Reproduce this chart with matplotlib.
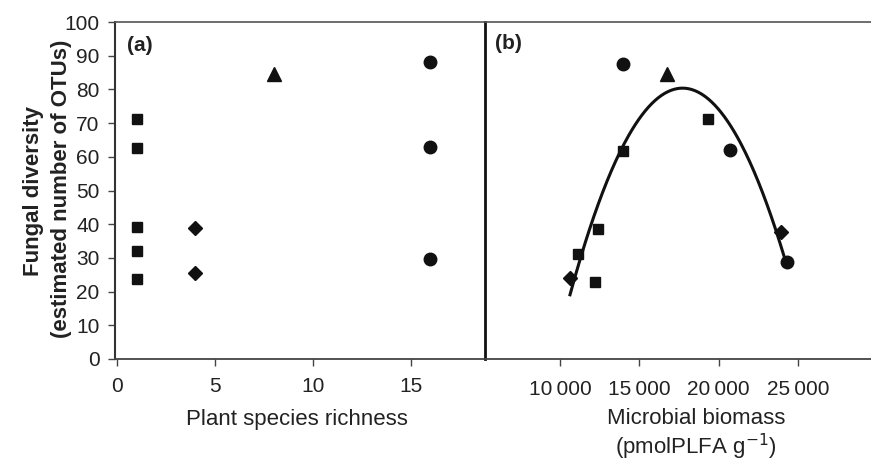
import numpy as np
import matplotlib
matplotlib.use("Agg")
import matplotlib.pyplot as plt

plt.rcParams['font.family'] = ['Liberation Sans', 'DejaVu Sans']

# Panel (a): plant species richness vs fungal diversity
a_sq_x = [1, 1, 1, 1, 1]
a_sq_y = [71.2, 62.7, 39.3, 32.1, 23.7]
a_di_x = [4, 4]
a_di_y = [38.8, 25.6]
a_tr_x = [8]
a_tr_y = [84.5]
a_ci_x = [16, 16, 16]
a_ci_y = [88.0, 63.0, 29.7]

# Panel (b): microbial biomass vs fungal diversity
b_sq_x = [19350, 13970, 12420, 11150, 12210]
b_sq_y = [71.2, 61.8, 38.7, 31.2, 22.9]
b_di_x = [23920, 10630]
b_di_y = [37.6, 23.9]
b_tr_x = [16770]
b_tr_y = [84.5]
b_ci_x = [13950, 20700, 24290]
b_ci_y = [87.4, 62.1, 28.7]

a_xticks = [0, 5, 10, 15]
b_xticks = [10000, 15000, 20000, 25000]
b_xticklabels = ['10\u2009000', '15\u2009000', '20\u2009000', '25\u2009000']
yticks = list(range(0, 101, 10))

W, H = 871, 463
fig = plt.figure(figsize=(W/100, H/100), dpi=100)
left, mid, right = 115/W, 485/W, 1.0
bottom, top = 1 - 359/H, 1 - 22/H
axa = fig.add_axes([left, bottom, mid-left, top-bottom])
axb = fig.add_axes([mid, bottom, right-mid, top-bottom], sharey=axa)

mc = '#111111'
tc = '#222222'
tfs = 15
lfs = 16

for ax, pad in ((axa, 8), (axb, 10)):
    ax.set_ylim(0, 100)
    ax.spines['right'].set_visible(False)
    ax.spines['top'].set_color('#555555')
    ax.spines['top'].set_linewidth(1.2)
    ax.spines['bottom'].set_color('#444444')
    ax.spines['bottom'].set_linewidth(1.3)
    ax.tick_params(axis='x', direction='out', length=5, width=1, colors='#444444',
                   labelcolor=tc, labelsize=tfs, pad=pad)

axa.spines['left'].set_color('#333333')
axa.spines['left'].set_linewidth(1.5)
axb.spines['left'].set_color('#111111')
axb.spines['left'].set_linewidth(2)

axa.set_yticks(yticks)
axa.tick_params(axis='y', direction='out', length=5, width=1, colors='#444444',
                labelcolor=tc, labelsize=tfs, pad=6)
axb.tick_params(axis='y', left=False, labelleft=False)

kw = dict(linestyle='none', color=mc, markeredgecolor=mc)
axa.plot(a_sq_x, a_sq_y, marker='s', markersize=7.5, **kw)
axa.plot(a_di_x, a_di_y, marker='D', markersize=7, **kw)
axa.plot(a_tr_x, a_tr_y, marker='^', markersize=10, **kw)
axa.plot(a_ci_x, a_ci_y, marker='o', markersize=9, **kw)
axa.set_xlim(-0.1, 18.8)
axa.set_xticks(a_xticks)

# quadratic trend line through all points of panel (b)
bx = np.array(b_sq_x + b_di_x + b_tr_x + b_ci_x, dtype=float)
by = np.array(b_sq_y + b_di_y + b_tr_y + b_ci_y, dtype=float)
coef = np.polyfit(bx, by, 2)
xs = np.linspace(bx.min(), bx.max(), 200)
axb.plot(xs, np.polyval(coef, xs), color=mc, lw=2.2, zorder=1)

axb.plot(b_sq_x, b_sq_y, marker='s', markersize=7.5, **kw)
axb.plot(b_di_x, b_di_y, marker='D', markersize=7, **kw)
axb.plot(b_tr_x, b_tr_y, marker='^', markersize=10, **kw)
axb.plot(b_ci_x, b_ci_y, marker='o', markersize=9, **kw)
axb.set_xlim(5270, 29610)
axb.set_xticks(b_xticks)
axb.set_xticklabels(b_xticklabels)

axa.text(0.032, 0.929, '(a)', transform=axa.transAxes, fontsize=tfs, fontweight='bold',
         color=tc, va='center', ha='left')
axb.text(0.026, 0.935, '(b)', transform=axb.transAxes, fontsize=tfs, fontweight='bold',
         color=tc, va='center', ha='left')

fig.text(33/W, 1 - 191/H, 'Fungal diversity', rotation=90, fontsize=lfs,
         fontweight='bold', color=tc, ha='center', va='center')
fig.text(61/W, 1 - 189/H, '(estimated number of OTUs)', rotation=90, fontsize=lfs,
         fontweight='bold', color=tc, ha='center', va='center')

fig.text(297/W, 1 - 419/H, 'Plant species richness', fontsize=lfs, color=tc,
         ha='center', va='center')
fig.text(696/W, 1 - 419/H, 'Microbial biomass', fontsize=lfs, color=tc,
         ha='center', va='center')
fig.text(696/W, 1 - 447/H, '(pmolPLFA g$^{-1}$)', fontsize=lfs, color=tc,
         ha='center', va='center')

fig.savefig('out.png', dpi=100)
